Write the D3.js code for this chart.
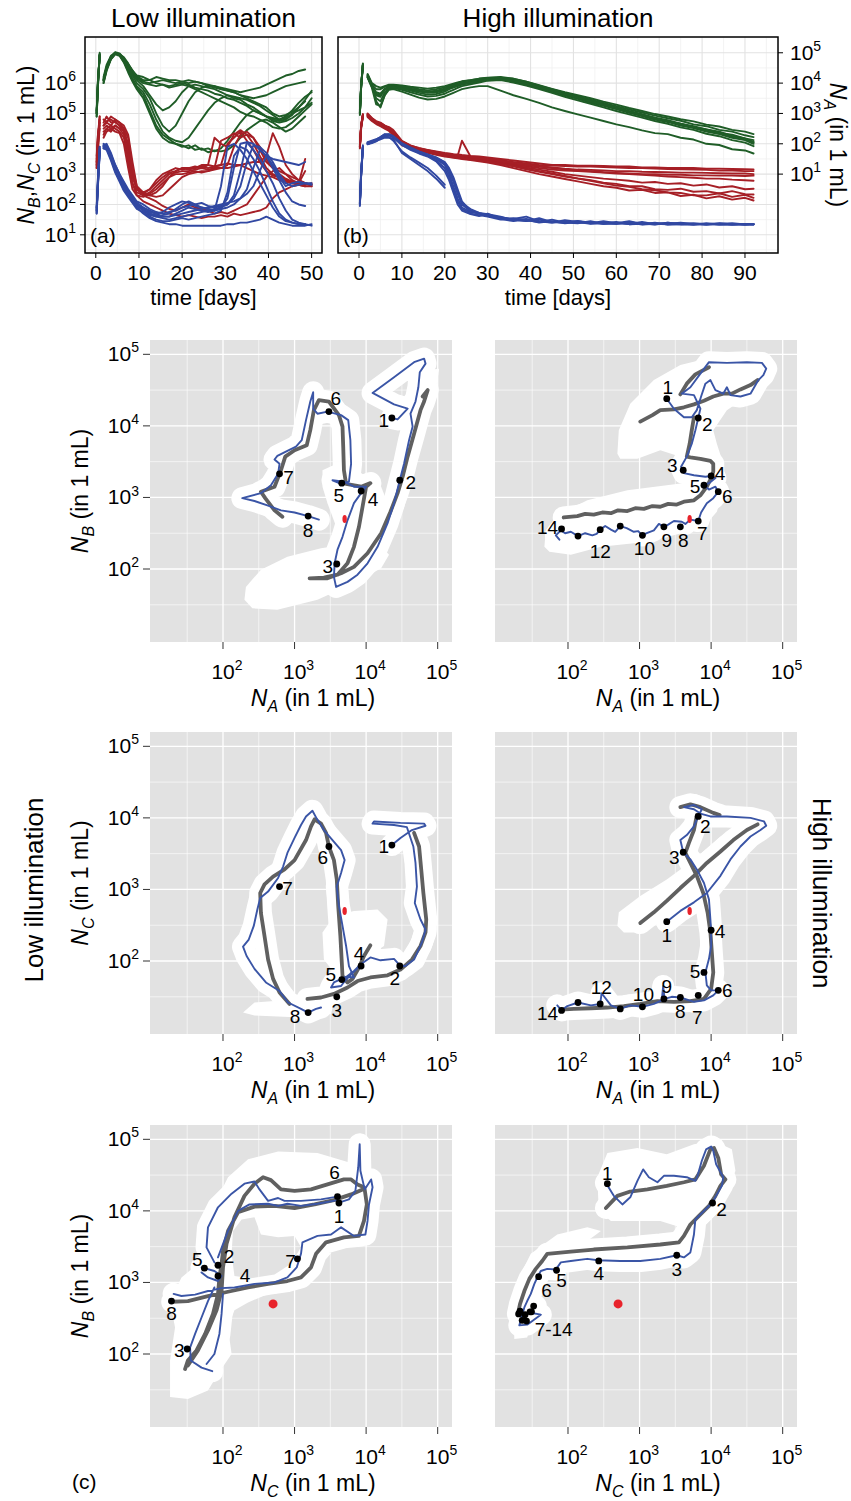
<!DOCTYPE html>
<html><head><meta charset="utf-8">
<script src="https://cdn.jsdelivr.net/npm/d3@7"></script>
<style>
body{margin:0;background:#fff}
text{font-family:"Liberation Sans",Arial,Helvetica,sans-serif;fill:#000}
</style>
</head><body>
<script>
// ================= time series (log10 counts per mL) =================
// low illumination: sampling days (1.3 is the gap after inoculation)
const daysLow = [0.2,0.5,0.9,1.3,1.8,2.5,3.5,4.5,5.5,6.5,7.5,8.5,9.5,11,12.5,14,15.5,17,18.5,20,21.5,23,24.5,26,27.5,29,30.5,32,33.5,35,36.5,38,39.5,41,42.5,44,45.5,47,48.5,50];

// N_A replicates (log10)
const lowA = [
 [3.1,4.1,4.9,null,4.2,4.6,4.9,5.0,4.95,4.85,4.65,4.4,4.2, 4.05,4.0,4.05,4.1,4.05,4.0,4.05, 4.1,4.05,4.0,3.95,3.9,3.85, 3.8,3.75,3.7,3.75,3.8,3.85,3.95, 4.05,4.15,4.25,4.3,4.4,4.45],
 [3.0,4.0,4.95,null,4.1,4.55,4.85,5.02,4.98,4.82,4.62,4.42,4.22, 4.1,4.1,4.2,4.15,4.1,4.1,4.05, 4.0,4.05,4.0,3.9,3.9,3.8, 3.75,3.7,3.6,3.55,3.5,3.55,3.6, 3.7,3.8,3.9,3.95,4.0,4.05],
 [2.9,3.9,5.0,null,4.0,4.45,4.8,4.98,4.96,4.78,4.58,4.35,4.15, 4.0,3.95,3.9,3.95,3.9,3.95,4.0, 3.95,3.85,3.8,3.75,3.65,3.6, 3.5,3.45,3.35,3.25,3.1,3.0,2.9, 2.85,2.8,2.9,3.1,3.35,3.55,3.7],
 [3.0,4.1,4.9,null,4.15,4.5,4.88,5.0,4.93,4.8,4.6,4.4,4.25, 4.2,4.1,4.0,3.95,3.85,3.9,3.95, 3.9,3.8,3.7,3.6,3.5,3.4, 3.3,3.2,3.05,2.95,2.9,2.8,2.7, 2.55,2.5,2.55,2.7,2.9,3.1,3.3],
 [3.1,4.0,4.95,null,4.1,4.5,4.82,4.97,4.95,4.78,4.55,4.3,4.1, 3.9,3.6,3.3,3.1,3.2,3.4,3.7, 3.9,3.95,3.9,3.85,3.8,3.7, 3.6,3.5,3.45,3.3,3.2,3.05,2.9, 2.75,2.7,2.75,2.85,3.0,3.2,3.5],
 [3.0,3.95,4.9,null,4.05,4.45,4.8,4.98,4.92,4.7,4.4,4.1,3.85, 3.6,3.1,2.6,2.3,2.15,2.0,1.95, 1.85,1.95,1.8,1.85,1.75,1.85, 2.1,2.4,2.7,2.95,3.1,3.0,2.9, 2.8,2.75,2.8,2.95,3.2,3.45,3.75],
 [2.9,3.9,4.95,null,4.0,4.4,4.78,4.95,4.9,4.68,4.35,4.05,3.8, 3.5,3.0,2.5,2.2,2.05,2.0,1.9, 1.95,1.8,1.85,1.72,1.78,1.75, 1.8,1.95,2.2,2.45,2.6,2.75,2.8, 2.7,2.55,2.4,2.5,2.7,2.9],
 [3.0,4.0,4.9,null,4.1,4.5,4.85,5.0,4.95,4.75,4.45,4.15,3.9, 3.7,3.3,2.8,2.4,2.2,2.1,2.05, 2.2,2.5,2.8,3.1,3.35,3.5, 3.6,3.55,3.5,3.45,3.35,3.25,3.1, 2.95,2.8,2.85,3.0,3.1,3.2,3.35],
 [3.05,4.05,4.92,null,4.1,4.5,4.82,4.98,4.93,4.75,4.5,4.25,4.0, 3.8,3.5,3.0,2.6,2.4,2.6,3.0, 3.4,3.7,3.85,3.9,3.85,3.8, 3.75,3.7,3.6,3.5,3.4,3.3,3.2, 3.0,2.9,2.95,3.05,3.2,3.4]
];
// N_B replicates (log10)
const lowB = [
 [3.3,4.1,4.9,null,4.6,4.75,4.8,4.7,4.6,4.5,3.4,2.7,2.4, 2.3,2.4,2.6,2.8,3.0,3.05,3.1, 3.1,3.15,3.2,3.15,3.2,4.1, 4.2,4.35,4.2,4.3,4.0,3.6,3.2, 3.0,2.9,2.8,2.75,2.7,2.65,2.7],
 [3.5,4.3,4.7,null,4.3,4.5,4.4,4.6,4.5,4.3,3.9,3.0,2.5, 2.35,2.5,2.8,3.0,3.1,3.2,3.15, 3.2,3.2,3.25,3.2,3.25,3.3, 4.0,4.2,4.4,4.1,3.8,3.4,3.1, 2.95,2.9,2.8,2.7,2.65,2.6,2.6],
 [3.2,3.8,4.5,null,4.8,4.7,4.9,4.8,4.7,4.6,4.3,3.4,2.6, 2.3,2.3,2.4,2.6,2.9,3.0,3.0, 3.05,3.1,3.05,3.1,3.2,3.2, 3.3,3.9,4.3,4.4,4.2,3.8,3.4, 3.2,3.1,3.0,2.9,2.8,2.7,2.65],
 [3.4,4.2,4.8,null,4.5,4.6,4.5,4.4,4.35,4.0,3.2,2.5,2.3, 2.25,2.35,2.5,2.7,2.9,3.1,3.2, 3.15,3.2,3.3,3.3,3.25,3.3, 3.35,3.3,3.3,3.35,3.4,3.4,3.6, 4.35,3.9,3.3,3.0,2.8,2.7,2.6],
 [3.3,4.0,4.6,null,4.4,4.5,4.6,4.5,4.4,4.2,3.5,2.7,2.3, 2.1,2.0,1.9,1.8,1.7,1.65,1.6, 1.65,1.6,1.55,1.6,1.6,1.65, 1.6,1.7,1.65,1.7,1.75,1.8,1.9, 2.2,2.4,2.5,2.6,2.65,2.6],
 [3.6,4.3,4.9,null,4.7,4.9,4.7,4.75,4.6,4.4,3.7,2.9,2.5, 2.4,2.3,2.25,2.3,2.5,2.7,2.9, 3.0,3.05,3.1,3.1,3.15,3.2, 3.2,3.25,3.3,3.2,3.1,3.0,2.95, 2.9,2.8,2.75,2.7,2.7,3.5],
 [3.2,3.9,4.7,null,4.2,4.4,4.5,4.6,4.5,4.45,4.0,3.1,2.5, 2.3,2.2,2.1,1.95,1.85,1.8,1.9, 2.0,1.9,1.85,1.8,1.7,1.75, 1.7,1.8,1.9,2.0,2.3,2.6,2.9, 3.1,3.2,3.0,2.8,2.7,2.7,2.65],
 [3.4,4.1,4.8,null,4.6,4.7,4.6,4.8,4.7,4.5,4.2,3.2,2.6, 2.4,2.5,2.7,2.9,3.05,3.1,3.2, 3.2,3.25,3.2,3.3,4.2,4.0, 3.9,4.3,4.45,4.3,4.2,3.9,3.5, 3.2,3.0,2.85,2.75,2.7,3.1]
];
// N_C replicates (log10)
const lowC = [
 [1.7,2.6,3.7,null,3.9,3.85,3.5,3.1,2.8,2.5,2.3,2.1,1.9, 1.7,1.55,1.45,1.4,1.35,1.35,1.3, 1.3,1.3,1.3,1.3,1.3,1.3, 1.35,1.35,1.4,1.4,1.45,1.5,1.6, 1.5,1.4,1.35,1.3,1.3,1.3,1.35],
 [1.9,2.9,3.9,null,3.95,4.0,3.7,3.3,3.0,2.7,2.45,2.25,2.05, 1.9,1.8,1.7,1.6,1.6,1.7,1.8, 1.9,1.85,1.8,1.75,1.8,2.6, 3.9,4.0,3.8,3.5,3.1,2.7,2.3, 1.9,1.6,1.45,1.4,1.35,1.35],
 [1.8,2.7,3.8,null,3.85,3.9,3.6,3.2,2.9,2.6,2.4,2.2,2.0, 1.8,1.65,1.6,1.65,1.7,1.85,2.0, 2.1,2.0,1.9,1.85,1.8,1.9, 2.2,3.2,4.0,4.05,3.8,3.5,3.1, 2.7,2.2,1.8,1.5,1.4,1.35,1.3],
 [1.75,2.8,3.85,null,3.9,3.95,3.65,3.3,3.0,2.75,2.5,2.3,2.1, 2.0,1.85,1.75,1.7,1.75,1.8,1.9, 1.95,2.0,2.05,1.95,1.9,1.95, 2.0,2.3,3.1,4.05,4.0,3.8,3.6, 3.5,3.45,3.4,3.35,3.3,3.4],
 [1.85,2.75,3.75,null,3.95,3.9,3.55,3.2,2.9,2.6,2.4,2.2,2.0, 1.85,1.7,1.6,1.55,1.5,1.55,1.6, 1.65,1.7,1.75,1.8,1.85,1.9, 2.0,2.2,2.6,3.4,3.95,3.9,3.7, 3.4,3.0,2.7,2.6,2.65,2.7,2.65],
 [1.7,2.65,3.7,null,3.85,3.8,3.45,3.05,2.75,2.45,2.25,2.05,1.85, 1.75,1.6,1.5,1.45,1.45,1.5,1.55, 1.5,1.55,1.6,1.65,1.7,1.8, 2.4,3.6,3.9,3.8,3.5,3.1,2.6, 2.1,1.7,1.5,1.4,1.35,1.35],
 [1.9,2.85,3.9,null,4.0,3.95,3.6,3.25,2.95,2.65,2.45,2.25,2.05, 1.9,1.75,1.7,1.75,1.9,2.0,2.1, 2.05,1.95,1.9,1.85,1.8,1.85, 1.9,2.0,2.2,2.5,3.2,3.8,3.6, 3.2,2.8,2.4,2.1,2.0,1.95],
 [1.8,2.7,3.8,null,3.9,3.9,3.55,3.15,2.85,2.55,2.35,2.15,1.95, 1.8,1.7,1.65,1.6,1.6,1.65,1.7, 1.75,1.8,1.85,1.9,1.95,2.0, 2.05,2.1,2.2,2.35,2.6,3.1,3.6, 3.3,2.9,2.6,2.7,2.75,2.7,2.7]
];

// high illumination: sampling days (1.4 is the gap after inoculation)
const daysHigh = [0.2,0.5,0.9,1.4,2,3,4,5,6,7,8,10,12,14,16,18,20,21,22,23,24,26,28,30,33,36,39,42,45,48,51,54,57,60,63,66,69,72,75,78,81,84,87,90,92];

const highA = [
 [3.0,3.9,4.65,null, 4.3,4.0,3.9,3.85,3.9,3.95,3.95, 3.92,3.88,3.85,3.82,3.85,3.9, 3.94,3.98,4.02,4.06,4.1,4.15,4.18, 4.2,4.15,4.05,3.93,3.81,3.7,3.6, 3.5,3.39,3.29,3.18,3.08,2.98,2.9, 2.81,2.74,2.63,2.57,2.46,2.4,2.32],
 [3.1,3.95,4.6,null, 4.25,3.95,3.8,3.8,3.88,3.92,3.93, 3.9,3.86,3.8,3.76,3.8,3.86, 3.9,3.95,4.0,4.05,4.1,4.14,4.17, 4.18,4.12,4.02,3.9,3.78,3.66,3.55, 3.45,3.35,3.24,3.13,3.03,2.93,2.84, 2.76,2.64,2.58,2.46,2.4,2.28,2.22],
 [2.95,3.85,4.55,null, 4.2,3.9,3.6,3.55,3.8,3.88,3.9, 3.86,3.8,3.75,3.7,3.72,3.8, 3.85,3.9,3.95,4.0,4.05,4.1,4.14, 4.16,4.1,4.0,3.88,3.75,3.62,3.5, 3.4,3.3,3.18,3.06,2.95,2.85,2.74, 2.66,2.55,2.47,2.36,2.3,2.18,2.12],
 [3.0,3.9,4.6,null, 4.28,3.95,3.4,3.2,3.6,3.85,3.9, 3.88,3.82,3.76,3.72,3.75,3.82, 3.88,3.92,3.96,4.0,4.05,4.1,4.15, 4.18,4.14,4.05,3.92,3.8,3.68,3.56, 3.44,3.32,3.2,3.08,2.98,2.86,2.78, 2.66,2.58,2.47,2.4,2.26,2.18,2.05],
 [3.05,3.92,4.62,null, 4.22,3.92,3.7,3.65,3.82,3.87,3.88, 3.84,3.78,3.72,3.68,3.7,3.76, 3.82,3.86,3.9,3.95,4.0,4.05,4.1, 4.12,4.06,3.96,3.84,3.72,3.6,3.48, 3.36,3.25,3.14,3.02,2.91,2.8,2.72, 2.6,2.52,2.4,2.32,2.2,2.12,2.0],
 [2.98,3.88,4.58,null, 4.2,3.88,3.5,3.4,3.7,3.82,3.84, 3.78,3.7,3.62,3.56,3.58,3.65, 3.72,3.78,3.84,3.9,3.96,4.02,4.08, 4.1,4.02,3.92,3.8,3.68,3.55,3.43, 3.32,3.2,3.08,2.97,2.86,2.75,2.66, 2.54,2.46,2.33,2.25,2.12,2.04,1.92],
 [3.02,3.9,4.6,null, 4.18,3.85,3.3,3.25,3.6,3.78,3.8, 3.72,3.62,3.52,3.46,3.48,3.56, 3.62,3.68,3.74,3.8,3.86,3.9,3.9, 3.75,3.6,3.48,3.35,3.2,3.08,2.97, 2.86,2.75,2.64,2.55,2.44,2.35,2.32, 2.2,2.14,2.0,1.96,1.82,1.78,1.68],
 [3.0,3.9,4.62,null, 4.24,3.9,3.65,3.6,3.78,3.85,3.86, 3.82,3.75,3.68,3.62,3.64,3.72, 3.8,3.86,3.92,3.97,4.02,4.08,4.12, 4.14,4.08,3.98,3.86,3.74,3.63,3.52, 3.4,3.28,3.16,3.05,2.94,2.83,2.74, 2.62,2.55,2.42,2.36,2.24,2.16,2.06]
];
const highB = [
 [3.9,4.6,4.95,null, 5.0,4.85,4.75,4.7,4.6,4.55,4.45, 4.1,3.95,3.85,3.8,3.75,3.7, 3.68,3.66,3.65,3.63,3.6,3.58,3.55, 3.5,3.45,3.4,3.35,3.3,3.3,3.28, 3.28,3.27,3.25,3.25,3.22,3.22,3.2, 3.2,3.2,3.18,3.18,3.17,3.16,3.15],
 [3.95,4.55,4.9,null, 4.95,4.8,4.7,4.65,4.55,4.5,4.35, 4.0,3.9,3.82,3.77,3.72,3.66, 3.64,3.62,3.6,4.1,3.58,3.55,3.52, 3.46,3.4,3.35,3.3,3.28,3.27,3.25, 3.25,3.23,3.22,3.2,3.2,3.18,3.17, 3.16,3.15,3.14,3.12,3.12,3.1,3.1],
 [3.85,4.5,4.9,null, 4.9,4.8,4.7,4.62,4.55,4.45,4.3, 4.0,3.88,3.8,3.74,3.68,3.62, 3.6,3.58,3.56,3.54,3.5,3.47,3.44, 3.38,3.32,3.26,3.2,3.15,3.12,3.1, 3.08,3.05,3.02,3.0,2.98,2.95,2.92, 2.9,2.88,2.85,2.85,2.82,2.8,2.78],
 [3.9,4.62,4.98,null, 4.98,4.82,4.72,4.66,4.58,4.52,4.4, 4.05,3.92,3.84,3.78,3.7,3.64, 3.62,3.6,3.58,3.56,3.52,3.48,3.45, 3.38,3.3,3.22,3.15,3.08,3.0,2.95, 2.9,2.85,2.82,2.78,2.72,2.74,2.68, 2.7,2.62,2.66,2.56,2.6,2.5,2.52],
 [3.92,4.58,4.92,null, 4.92,4.78,4.68,4.6,4.52,4.46,4.32, 3.98,3.86,3.78,3.72,3.66,3.6, 3.58,3.56,3.54,3.52,3.48,3.45,3.42, 3.35,3.27,3.18,3.1,3.02,2.94,2.86, 2.8,2.72,2.68,2.6,2.6,2.5,2.48, 2.52,2.42,2.44,2.36,2.44,2.34,2.33],
 [3.88,4.55,4.9,null, 4.88,4.75,4.65,4.58,4.5,4.42,4.28, 3.95,3.84,3.76,3.7,3.64,3.58, 3.56,3.54,3.52,3.5,3.46,3.42,3.38, 3.3,3.2,3.1,3.0,2.92,2.84,2.76, 2.68,2.6,2.55,2.46,2.48,2.38,2.4, 2.28,2.32,2.2,2.27,2.16,2.22,2.13],
 [3.95,4.6,4.95,null, 4.95,4.82,4.7,4.64,4.56,4.48,4.36, 4.02,3.9,3.83,3.76,3.7,3.65, 3.63,3.61,3.59,3.57,3.54,3.5,3.48, 3.42,3.36,3.3,3.25,3.2,3.16,3.12, 3.1,3.06,3.04,3.02,3.0,3.0,2.98, 2.98,2.96,2.96,2.95,2.95,2.94,2.95],
 [3.9,4.58,4.93,null, 4.93,4.8,4.68,4.62,4.54,4.46,4.34, 4.0,3.87,3.8,3.74,3.68,3.62, 3.6,3.58,3.56,3.54,3.5,3.46,3.42, 3.34,3.26,3.16,3.08,3.0,2.92,2.85, 2.78,2.7,2.62,2.58,2.5,2.47,2.4, 2.38,2.3,2.3,2.37,2.25,2.32,2.22],
 [3.92,4.62,4.96,null, 4.96,4.84,4.72,4.68,4.6,4.5,4.42, 4.08,3.94,3.86,3.79,3.73,3.68, 3.66,3.64,3.62,3.6,3.56,3.53,3.5, 3.44,3.38,3.32,3.26,3.22,3.18,3.15, 3.14,3.12,3.1,3.1,3.08,3.07,3.06, 3.05,3.05,3.04,3.03,3.02,3.02,3.0]
];
const highC = [
 [2.0,3.0,3.9,null, 4.0,4.05,4.1,4.15,4.2,4.2,4.15, 3.7,3.5,3.3,3.1,2.85,2.55],
 [2.1,3.1,3.85,null, 4.02,4.08,4.12,4.18,4.25,4.22,4.1, 3.75,3.55,3.38,3.2,2.95,2.65],
 [2.0,3.0,3.9,null, 4.0,4.05,4.1,4.2,4.3,4.32,4.25, 4.0,3.85,3.72,3.62,3.5,3.3, 3.0,2.6,2.2,1.9,1.75,1.7,1.65, 1.55,1.5,1.45,1.5,1.42,1.4,1.45, 1.38,1.4,1.36,1.42,1.35,1.38,1.35, 1.37,1.35,1.36,1.34,1.35,1.33,1.35],
 [2.05,3.05,3.95,null, 4.05,4.1,4.15,4.22,4.3,4.3,4.22, 3.98,3.82,3.7,3.6,3.45,3.2, 2.9,2.5,2.1,1.85,1.7,1.65,1.6, 1.5,1.55,1.48,1.42,1.5,1.4,1.38, 1.45,1.36,1.4,1.35,1.38,1.34,1.4, 1.35,1.33,1.38,1.34,1.36,1.35,1.34],
 [1.95,2.95,3.85,null, 3.98,4.02,4.08,4.18,4.28,4.3,4.24, 4.02,3.88,3.75,3.65,3.55,3.4, 3.2,2.9,2.5,2.1,1.8,1.72,1.68, 1.6,1.48,1.52,1.45,1.4,1.48,1.42, 1.38,1.45,1.38,1.36,1.42,1.35,1.37, 1.4,1.36,1.34,1.37,1.35,1.36,1.35],
 [2.02,3.02,3.92,null, 4.02,4.06,4.12,4.2,4.28,4.28,4.2, 3.96,3.8,3.68,3.58,3.42,3.1, 2.8,2.4,2.0,1.8,1.68,1.62,1.7, 1.52,1.45,1.5,1.4,1.45,1.38,1.42, 1.36,1.38,1.42,1.35,1.36,1.4,1.34, 1.36,1.38,1.35,1.35,1.34,1.36,1.35],
 [2.0,2.98,3.88,null, 4.0,4.04,4.1,4.18,4.26,4.28,4.22, 3.99,3.84,3.72,3.62,3.52,3.35, 3.1,2.75,2.35,2.0,1.78,1.7,1.62, 1.58,1.5,1.45,1.55,1.42,1.4,1.46, 1.4,1.37,1.36,1.4,1.34,1.36,1.35, 1.34,1.36,1.35,1.38,1.34,1.35,1.36],
 [2.05,3.0,3.9,null, 4.04,4.08,4.14,4.22,4.32,4.3,4.24, 4.0,3.86,3.74,3.64,3.54,3.38, 3.15,2.8,2.4,2.05,1.85,1.72,1.64, 1.56,1.52,1.6,1.44,1.4,1.45,1.4, 1.42,1.36,1.38,1.45,1.36,1.35,1.4, 1.36,1.35,1.34,1.36,1.38,1.34,1.35]
];

// axis ticks
const timeTicksLow = [0,10,20,30,40,50];
const timeTicksHigh = [0,10,20,30,40,50,60,70,80,90];
const decadesBC = [1,2,3,4,5,6];
const decadesA = [1,2,3,4,5];
const phaseDecades = [2,3,4,5];

// ================= phase portraits (log10 counts per mL) =================
// numbered sampling points (days)
const lowPtsA = [4.36,4.47,3.59,3.93,3.66,3.48,2.79,3.19];
const lowPtsB = [4.11,3.24,2.07,3.09,3.20,4.20,3.33,2.74];
const lowPtsC = [3.62,1.93,1.50,1.93,1.74,3.60,3.04,1.28];
const lowPtNames = ['1','2','3','4','5','6','7','8'];
const highPtsA = [3.38,3.82,3.61,4.00,3.90,4.10,3.82,3.57,3.34,3.04,2.73,2.45,2.14,1.91];
const highPtsB = [4.38,4.11,3.38,3.30,3.17,3.08,2.67,2.59,2.59,2.47,2.60,2.55,2.46,2.56];
const highPtsC = [2.55,4.02,3.52,2.43,1.84,1.59,1.52,1.49,1.47,1.36,1.33,1.40,1.42,1.31];
const highPtNames = ['1','2','3','4','5','6','7','8','9','10','','12','','14'];
const highPtNamesCB = ['1','2','3','4','5','6','7-14','','','','','','',''];
// coexistence equilibrium (A, B, C)
const equilibrium = [3.70, 2.70, 2.70];

// trajectories: [x, y] in log10, null = break
const lowAB_mean = [[4.79,4.41],[4.86,4.50],[4.81,4.34],[4.76,4.22],[4.67,3.89],[4.58,3.57],[4.51,3.29],[4.44,3.06],[4.34,2.80],[4.21,2.50],[4.02,2.22],[3.83,2.03],[3.65,1.94],[3.46,1.87],[3.21,1.87],[3.41,1.88],[3.60,1.92],[3.74,2.08],[3.83,2.31],[3.90,2.59],[3.95,2.87],[4.00,3.15],[4.06,3.20],[3.93,3.15],[3.72,3.19],[3.69,3.38],[3.68,3.71],[3.67,3.99],[3.62,4.15],[3.48,4.34],[3.34,4.36],[3.27,4.22],[3.22,3.94],[3.17,3.73],[3.00,3.66],[2.87,3.57],[2.81,3.38],[2.72,3.15],[2.53,3.08],[2.59,2.99],[2.72,2.82],[2.83,2.73]];
const lowAB_run = [[4.36,4.11],[4.44,4.09],[4.58,4.24],[4.39,4.30],[4.09,4.46],[4.39,4.68],[4.67,4.89],[4.81,4.94],[4.83,4.87],[4.75,4.75],[4.73,4.54],[4.69,4.34],[4.62,4.17],[4.65,3.99],[4.60,3.80],[4.53,3.47],[4.47,3.24],[4.39,2.92],[4.30,2.64],[4.16,2.31],[4.02,2.08],[3.88,1.92],[3.74,1.82],[3.58,1.75],[3.55,1.89],[3.56,2.08],[3.60,2.27],[3.67,2.45],[3.74,2.68],[3.83,2.92],[3.93,3.06],[4.00,3.15],[3.83,3.15],[3.69,3.22],[3.53,3.24],[3.65,3.19],[3.76,3.22],[3.79,3.47],[3.78,3.80],[3.75,4.08],[3.65,4.15],[3.46,4.20],[3.32,4.17],[3.26,4.24],[3.26,4.47],[3.22,4.34],[3.16,4.08],[3.10,3.80],[3.02,3.71],[2.90,3.65],[2.76,3.58],[2.72,3.53],[2.79,3.47],[2.77,3.33],[2.67,3.17],[2.53,3.06],[2.27,2.99],[2.44,2.95],[2.62,2.89],[2.81,2.82],[3.00,2.79],[3.19,2.74],[3.34,2.69]];
const lowAB_spread = [
 [[2.30,1.57],[2.32,1.75],[2.53,1.99],[2.90,2.17],[3.37,2.29],[3.83,2.36],[4.21,2.32],[4.32,2.20],[4.21,2.01],[3.83,1.80],[3.32,1.57],[2.76,1.43],[2.41,1.45]],
 [[3.39,3.38],[3.65,3.50],[3.93,3.34],[4.21,3.15],[4.32,2.87],[4.27,2.54],[4.11,2.36],[3.83,2.34],[3.60,2.54],[3.46,2.92],[3.39,3.15]],
 [[4.53,4.41],[4.86,4.78],[5.02,4.80],[4.97,4.45],[4.81,4.03],[4.67,3.94],[4.58,4.13]]
];

const highAB_mean = [[3.01,4.06],[3.18,4.15],[3.29,4.22],[3.48,4.23],[3.62,4.26],[3.76,4.30],[3.90,4.35],[4.03,4.41],[4.17,4.45],[4.29,4.45],[4.41,4.51],[4.55,4.57],[4.65,4.64],null,[3.57,4.44],[3.66,4.59],[3.78,4.72],[3.97,4.82],null,[3.76,4.12],[3.73,3.94],[3.70,3.75],[3.66,3.57],[3.71,3.56],[3.85,3.54],[3.99,3.51],[4.03,3.47],[4.03,3.36],[4.00,3.27],[3.94,3.15],[3.85,3.03],[3.76,2.96],[3.62,2.94],[3.52,2.90],[3.40,2.91],[3.29,2.87],[3.18,2.88],[3.06,2.84],[2.94,2.85],[2.83,2.81],[2.70,2.82],[2.60,2.78],[2.48,2.79],[2.36,2.76],[2.24,2.77],[2.13,2.74],[1.94,2.72]];
const highAB_run = [[3.38,4.38],[3.48,4.24],[3.62,4.12],[3.73,4.12],[3.80,4.22],[3.86,4.41],[3.92,4.59],[3.99,4.64],[4.06,4.50],[4.17,4.45],[4.22,4.54],[4.27,4.43],[4.41,4.41],[4.55,4.45],[4.66,4.64],[4.73,4.71],[4.77,4.80],[4.71,4.88],[4.50,4.89],[4.22,4.88],[3.97,4.89],[3.85,4.73],[3.71,4.54],[3.59,4.45],[3.76,4.43],[3.85,4.24],[3.82,4.11],[3.78,3.94],[3.73,3.75],[3.66,3.57],[3.58,3.43],[3.62,3.34],[3.76,3.31],[3.92,3.29],[4.00,3.30],[4.06,3.27],[3.97,3.20],[3.90,3.17],[3.97,3.11],[4.06,3.15],[4.10,3.08],[4.03,2.99],[3.94,2.92],[3.86,2.79],[3.82,2.67],[3.71,2.69],[3.64,2.63],[3.59,2.66],[3.48,2.67],[3.40,2.62],[3.34,2.59],[3.27,2.63],[3.20,2.54],[3.10,2.50],[3.04,2.47],[2.98,2.53],[2.92,2.52],[2.82,2.57],[2.73,2.60],[2.66,2.52],[2.60,2.55],[2.52,2.60],[2.45,2.55],[2.40,2.49],[2.34,2.47],[2.24,2.50],[2.14,2.46],[2.04,2.52],[1.96,2.50],[1.90,2.54],[1.83,2.47],[1.88,2.41]];
const highAB_spread = [
 [[2.69,3.61],[2.71,3.94],[2.87,4.31],[3.20,4.64],[3.57,4.85],[3.94,4.94],[4.31,4.97],[4.69,4.96],[4.85,4.82],[4.75,4.59],[4.50,4.41],[4.22,4.22],[4.03,3.94],[4.08,3.75],[4.17,3.47],[4.15,3.20],[3.94,3.15],[3.76,3.34],[3.57,3.57],[3.29,3.66],[2.97,3.54],[2.73,3.54]],
 [[1.67,2.31],[1.69,2.54],[1.85,2.75],[2.27,2.96],[2.83,3.10],[3.38,3.17],[3.76,3.22],[4.03,3.20],[4.15,3.03],[4.08,2.80],[3.90,2.59],[3.48,2.47],[2.92,2.36],[2.46,2.31],[2.04,2.20],[1.74,2.24]]
];

const lowAC_mean = [[4.67,3.79],[4.74,3.60],[4.77,3.28],[4.80,2.95],[4.84,2.58],[4.83,2.40],[4.76,2.21],[4.64,2.02],[4.48,1.88],[4.30,1.80],[4.06,1.77],[3.88,1.72],[3.74,1.63],[3.55,1.54],[3.37,1.49],[3.18,1.47],null,[4.06,2.22],[3.97,2.07],[3.90,1.91],[3.81,1.75],[3.74,1.70],[3.67,1.79],[3.66,1.98],[3.64,2.35],[3.61,2.77],[3.59,3.14],[3.55,3.41],[3.48,3.60],[3.44,3.79],[3.37,3.92],[3.28,3.98],[3.23,3.88],[3.16,3.69],[3.00,3.41],[2.86,3.28],[2.70,3.18],[2.58,3.07],[2.52,2.95],[2.53,2.67],[2.58,2.35],[2.63,2.02],[2.70,1.75],[2.79,1.56],[2.93,1.40]];
const lowAC_run = [[4.36,3.62],[4.48,3.72],[4.64,3.83],[4.83,3.89],[4.81,3.92],[4.48,3.93],[4.11,3.95],[4.09,3.92],[4.39,3.90],[4.57,3.87],[4.66,3.60],[4.69,3.37],[4.71,3.04],[4.68,2.81],[4.76,2.58],[4.83,2.44],[4.78,2.26],[4.67,2.02],[4.55,1.93],[4.48,1.93],[4.39,2.03],[4.20,2.01],[4.06,2.05],[3.92,1.95],[3.83,1.86],[3.74,1.79],[3.55,1.70],[3.51,1.63],[3.65,1.65],[3.80,1.85],[3.70,1.72],[3.88,1.90],[3.75,1.78],[3.83,1.77],[3.76,1.93],[3.72,2.21],[3.67,2.49],[3.62,2.77],[3.59,3.04],[3.65,3.23],[3.70,3.41],[3.65,3.55],[3.53,3.69],[3.41,3.83],[3.31,3.99],[3.25,4.10],[3.16,4.02],[3.09,3.90],[3.00,3.72],[2.90,3.51],[2.84,3.32],[2.77,3.16],[2.63,2.97],[2.52,2.88],[2.48,2.72],[2.43,2.49],[2.36,2.30],[2.28,2.20],[2.33,2.07],[2.44,1.89],[2.60,1.70],[2.79,1.58],[2.91,1.42],[3.09,1.33],[3.19,1.28],[3.30,1.33],[3.37,1.35]];
const lowAC_spread = [
 [[3.39,2.40],[3.55,2.63],[3.83,2.70],[4.16,2.72],[4.30,2.58],[4.25,2.21],[4.11,2.12],[3.83,1.98],[3.55,1.84],[3.41,2.02]],
 [[2.28,1.28],[2.44,1.42],[3.09,1.47],[3.55,1.44],[3.51,1.26],[3.09,1.21],[2.44,1.24]]
];

const highAC_mean = [[3.01,2.53],[3.20,2.68],[3.38,2.84],[3.57,3.02],[3.76,3.19],[3.94,3.37],[4.13,3.53],[4.31,3.69],[4.50,3.83],[4.65,3.91],null,[3.57,4.15],[3.71,4.19],[3.85,4.15],[4.03,4.07],[4.12,4.04],null,[3.80,4.04],[3.76,3.83],[3.69,3.65],[3.64,3.51],[3.71,3.37],[3.80,3.19],[3.89,2.95],[3.95,2.68],[3.99,2.40],[4.01,2.12],[4.03,1.84],[4.00,1.61],[3.90,1.47],[3.71,1.44],[3.48,1.43],[3.25,1.44],[3.01,1.40],[2.78,1.37],[2.55,1.35],[2.32,1.34],[2.08,1.33],[1.90,1.32]];
const highAC_run = [[3.38,2.55],[3.57,2.70],[3.76,2.82],[3.94,2.95],[4.13,3.19],[4.27,3.42],[4.41,3.60],[4.55,3.74],[4.69,3.83],[4.77,3.89],[4.74,3.95],[4.55,4.00],[4.22,4.02],[3.99,4.02],[3.85,4.06],[3.76,4.12],[3.62,4.15],[3.76,4.18],[3.87,4.12],[3.82,4.02],[3.76,3.88],[3.66,3.76],[3.57,3.69],[3.61,3.52],[3.71,3.42],[3.80,3.28],[3.90,3.09],[3.97,2.86],[3.99,2.58],[4.00,2.43],[4.00,2.21],[3.97,2.03],[3.92,1.84],[3.94,1.66],[4.00,1.59],[4.10,1.59],[4.03,1.52],[3.90,1.45],[3.76,1.43],[3.57,1.49],[3.45,1.50],[3.35,1.47],[3.33,1.65],[3.31,1.45],[3.20,1.40],[3.04,1.36],[2.87,1.38],[2.73,1.33],[2.60,1.38],[2.47,1.55],[2.45,1.40],[2.32,1.38],[2.14,1.42],[1.99,1.37],[1.91,1.31],[1.85,1.38]];
const highAC_spread = [
 [[2.69,2.49],[2.71,2.68],[3.01,2.91],[3.38,3.14],[3.76,3.42],[4.13,3.74],[4.50,3.97],[4.64,3.93],[4.41,3.69],[4.13,3.42],[3.85,3.14],[3.52,2.82],[3.29,2.54],[3.01,2.40],[2.78,2.40]]
];

const lowCB_mean = [[1.29,2.73],[1.51,2.74],[1.79,2.81],[2.07,2.87],[2.35,2.93],[2.63,2.98],[2.90,3.02],[3.09,3.07],[3.23,3.21],[3.30,3.40],[3.44,3.56],[3.69,3.63],[3.90,3.65],[3.97,3.86],[4.01,4.09],[3.98,4.30],null,[3.95,4.30],[3.79,4.23],[3.55,4.15],[3.28,4.09],[3.00,4.04],[2.72,4.07],[2.44,4.06],[2.21,3.98],[2.07,3.72],[2.00,3.44],[1.98,3.26],[1.95,3.07],[1.93,2.84],[1.86,2.56],[1.75,2.28],[1.63,2.05],[1.51,1.91],[1.47,1.79],null,[1.51,1.84],[1.65,2.05],[1.79,2.33],[1.91,2.61],[1.98,2.88],[2.00,3.21],[2.05,3.54],[2.16,3.91],[2.30,4.21],[2.44,4.38],[2.56,4.47],[2.67,4.43],[2.81,4.30],[3.00,4.28],[3.23,4.30],[3.46,4.37],[3.69,4.44],[3.79,4.44],[3.88,4.37],[3.97,4.33]];
const lowCB_run = [[3.63,4.12],[3.76,4.16],[3.85,4.28],[3.89,4.61],[3.91,4.93],[3.92,4.56],[3.98,4.30],[4.07,4.44],[4.09,4.33],[4.04,4.09],[4.02,3.86],[3.99,3.67],[3.83,3.65],[3.65,3.77],[3.51,3.67],[3.32,3.65],[3.11,3.56],[3.09,3.40],[3.03,3.21],[2.90,3.07],[2.72,3.00],[2.44,2.98],[2.16,2.93],[1.98,2.92],[1.79,2.88],[1.61,2.83],[1.42,2.81],[1.31,2.84],null,[1.88,3.28],[1.77,3.49],[1.79,3.77],[1.93,4.05],[2.12,4.24],[2.30,4.38],[2.44,4.41],[2.51,4.30],[2.63,4.14],[2.77,4.18],[2.86,4.14],[3.09,4.14],[3.37,4.16],[3.60,4.20],null,[1.93,3.35],[2.07,3.72],[2.21,4.00],[2.37,4.09],[2.63,4.10],[2.77,4.07],[2.90,4.10],[3.09,4.07],[3.32,4.10],[3.60,4.15],null,[1.88,2.93],[1.79,2.74],[1.70,2.51],[1.61,2.28],[1.54,2.09],[1.55,1.91],[1.70,1.81],[1.85,1.76],null,[2.00,2.84],[1.98,2.56],[1.95,2.28],[1.88,2.00],[1.77,1.86],null,[1.70,3.21],[1.88,3.16],[1.98,3.09],[1.93,3.02],[1.79,3.07],[1.70,3.14]];
const lowCB_spread = [
 [[1.26,1.40],[1.26,1.91],[1.33,2.37],[1.26,2.74],[1.42,3.07],[1.70,3.30],[1.77,3.72],[1.88,4.09],[2.07,4.47],[2.35,4.72],[2.77,4.83],[3.32,4.81],[3.79,4.67],[3.97,4.56],[4.12,4.49],[4.09,4.05],[4.06,3.63],[3.83,3.54],[3.55,3.49],[3.37,3.35],[3.32,3.12],[3.09,2.93],[2.63,2.84],[2.35,2.72],[2.16,2.61],[2.07,2.37],[2.12,2.00],[1.93,1.72],[1.79,1.49],[1.51,1.37]]
];
const lowCB_gap = [[2.14,3.72],[2.26,3.88],[2.44,3.91],[2.53,3.67],[2.77,3.63],[3.00,3.65],[3.09,3.49],[2.95,3.26],[2.72,3.11],[2.39,3.06],[2.16,3.09],[2.12,3.40]];

const highCB_mean = [[2.53,4.04],[2.69,4.21],[2.87,4.27],[3.11,4.30],[3.38,4.35],[3.62,4.40],[3.78,4.44],[3.90,4.63],[3.99,4.86],[4.04,4.88],[4.10,4.74],[4.14,4.51],[4.20,4.44],[4.13,4.35],[4.06,4.21],[3.97,4.07],[3.83,3.93],[3.71,3.81],[3.62,3.65],[3.55,3.56],[3.29,3.53],[2.83,3.49],[2.36,3.46],[2.04,3.43],[1.71,3.40],[1.64,3.30],[1.55,3.19],[1.46,3.05],[1.39,2.88],[1.33,2.70],[1.30,2.56]];
const highCB_run = [[2.53,4.39],[2.64,4.21],[2.76,4.09],[2.87,4.19],[2.97,4.42],[3.05,4.58],[3.13,4.47],[3.25,4.40],[3.34,4.49],[3.48,4.49],[3.66,4.47],[3.78,4.42],[3.81,4.49],[3.87,4.70],[3.93,4.86],[4.00,4.90],[4.03,4.84],[4.07,4.65],[4.12,4.56],[4.17,4.47],[4.15,4.35],[4.08,4.23],[4.02,4.12],[3.90,4.00],[3.78,3.88],[3.76,3.67],[3.71,3.42],[3.62,3.35],[3.52,3.38],[3.29,3.33],[3.01,3.30],[2.73,3.30],[2.42,3.31],[2.27,3.33],[2.04,3.30],[1.90,3.28],[1.83,3.18],[1.71,3.19],[1.62,3.16],[1.58,3.09],[1.53,2.98],[1.48,2.84],[1.43,2.74],[1.39,2.65],[1.34,2.47],[1.32,2.40],[1.43,2.41],[1.62,2.55],[1.46,2.58],[1.55,2.67]];
const highCB_spread = [
 [[2.43,4.00],[2.41,4.47],[2.55,4.81],[2.97,4.88],[3.38,4.79],[3.76,4.93],[4.03,4.98],[4.29,4.86],[4.34,4.56],[4.24,4.28],[4.13,4.05],[3.94,3.86],[3.76,3.67],[3.57,3.77],[3.29,3.86],[2.92,3.86],[2.60,3.86]],
 [[1.25,2.21],[1.24,2.65],[1.29,3.02],[1.48,3.40],[1.85,3.67],[2.27,3.77],[2.46,3.72],[2.27,3.58],[1.85,3.44],[1.67,3.21],[1.57,2.84],[1.50,2.47],[1.43,2.23]]
];

// ================= drawing =================
const svg = d3.select('body').append('svg').attr('width',851).attr('height',1501).style('display','block');
const INK = '#000', GREEN = '#1f5d27', RED = '#a61f26', BLUE = '#3148a2';
const TRAJ_GREY = '#606060', TRAJ_BLUE = '#3a55a6', PANEL_BG = '#e2e2e2';
const TICK_FS = 21, TITLE_FS = 23;
let clipCount = 0;

function pow10(sel, exp, size) {
  sel.append('tspan').text('10');
  sel.append('tspan').attr('font-size', Math.round(size*0.68)).attr('dy', -size*0.42).text(exp);
}
// title with italic symbols and subscripts; parts = [text, kind]
function richText(sel, parts, size) {
  let shift = 0;
  parts.forEach(([t, kind]) => {
    const ts = sel.append('tspan').text(t);
    if (kind === 'i') { ts.attr('font-style','italic'); ts.attr('dy', -shift); shift = 0; }
    else if (kind === 'sub') { ts.attr('font-style','italic').attr('font-size', Math.round(size*0.7)).attr('dy', size*0.24); shift = size*0.24; }
    else { ts.attr('dy', -shift); shift = 0; }
  });
}

// ---------- time series panels ----------
function timePanel(o) {
  const g = svg.append('g');
  const x = d3.scaleLinear().domain(o.tDom).range([o.x0, o.x1]);
  const yBC = d3.scaleLog().domain([10**0.4, 10**7.52]).range([o.y1, o.y0]);
  const yA = d3.scaleLog().domain([10**-1.6, 10**5.52]).range([o.y1, o.y0]);
  g.append('rect').attr('x',o.x0).attr('y',o.y0).attr('width',o.x1-o.x0).attr('height',o.y1-o.y0).attr('fill','#fff');
  const grid = g.append('g');
  d3.range(0.5, 7.6, 1).forEach(e => grid.append('line').attr('x1',o.x0).attr('x2',o.x1).attr('y1',yBC(10**e)).attr('y2',yBC(10**e)).attr('stroke','#f0f0f0').attr('stroke-width',0.8));
  d3.range(5, o.tDom[1], 10).forEach(t => grid.append('line').attr('x1',x(t)).attr('x2',x(t)).attr('y1',o.y0).attr('y2',o.y1).attr('stroke','#f0f0f0').attr('stroke-width',0.8));
  d3.range(1, 8, 1).forEach(e => grid.append('line').attr('x1',o.x0).attr('x2',o.x1).attr('y1',yBC(10**e)).attr('y2',yBC(10**e)).attr('stroke','#e2e2e2').attr('stroke-width',1.1));
  o.xTicks.forEach(t => grid.append('line').attr('x1',x(t)).attr('x2',x(t)).attr('y1',o.y0).attr('y2',o.y1).attr('stroke','#e2e2e2').attr('stroke-width',1.1));

  const id = 'tclip' + (clipCount++);
  g.append('clipPath').attr('id', id).append('rect').attr('x',o.x0).attr('y',o.y0).attr('width',o.x1-o.x0).attr('height',o.y1-o.y0);
  const lines = g.append('g').attr('clip-path', `url(#${id})`);
  const groups = [[o.A, yA, GREEN], [o.B, yBC, RED], [o.C, yBC, BLUE]];
  groups.forEach(([reps, ys, col]) => {
    const gen = d3.line().defined(d => d.v != null).x(d => x(d.t)).y(d => ys(10**d.v));
    reps.forEach(r => {
      const pts = r.map((v, i) => ({t: o.days[i], v}));
      lines.append('path').attr('d', gen(pts)).attr('fill','none').attr('stroke',col)
        .attr('stroke-width',1.9).attr('stroke-linejoin','round').attr('stroke-linecap','round');
    });
  });
  g.append('rect').attr('x',o.x0).attr('y',o.y0).attr('width',o.x1-o.x0).attr('height',o.y1-o.y0)
    .attr('fill','none').attr('stroke',INK).attr('stroke-width',1.5);

  // x axis
  o.xTicks.forEach(t => {
    g.append('line').attr('x1',x(t)).attr('x2',x(t)).attr('y1',o.y1).attr('y2',o.y1+5).attr('stroke',INK);
    g.append('text').attr('x',x(t)).attr('y',o.y1+27).attr('text-anchor','middle').attr('font-size',TICK_FS).text(t);
  });
  g.append('text').attr('x',(o.x0+o.x1)/2).attr('y',o.y1+52).attr('text-anchor','middle').attr('font-size',22).text('time [days]');
  g.append('text').attr('x',(o.x0+o.x1)/2).attr('y',o.y0-10).attr('text-anchor','middle').attr('font-size',26).text(o.title);
  g.append('text').attr('x',o.x0+5).attr('y',o.y1-10).attr('font-size',21).text(o.tag);

  if (o.leftTicks) {
    o.leftTicks.forEach(e => {
      const yy = yBC(10**e);
      g.append('line').attr('x1',o.x0-5).attr('x2',o.x0).attr('y1',yy).attr('y2',yy).attr('stroke',INK);
      const t = g.append('text').attr('x',o.x0-9).attr('y',yy+7).attr('text-anchor','end').attr('font-size',TICK_FS);
      pow10(t, e, TICK_FS);
    });
    const lab = g.append('text').attr('transform',`translate(${o.x0-51},${(o.y0+o.y1)/2}) rotate(-90)`).attr('text-anchor','middle').attr('font-size',TITLE_FS);
    richText(lab, [['N','i'],['B','sub'],[',',''],['N','i'],['C','sub'],[' (in 1 mL)','']], TITLE_FS);
  }
  if (o.rightTicks) {
    o.rightTicks.forEach(e => {
      const yy = yA(10**e);
      g.append('line').attr('x1',o.x1).attr('x2',o.x1+5).attr('y1',yy).attr('y2',yy).attr('stroke',INK);
      const t = g.append('text').attr('x',o.x1+12).attr('y',yy+7).attr('font-size',TICK_FS);
      pow10(t, e, TICK_FS);
    });
    const lab = g.append('text').attr('transform',`translate(${o.x1+52},${(o.y0+o.y1)/2}) rotate(90)`).attr('text-anchor','middle').attr('font-size',TITLE_FS);
    richText(lab, [['N','i'],['A','sub'],[' (in 1 mL)','']], TITLE_FS);
  }
}

timePanel({x0:85, x1:322, y0:37, y1:253, tDom:[-2.5,52.4], days:daysLow, A:lowA, B:lowB, C:lowC,
  xTicks:timeTicksLow, leftTicks:decadesBC, title:'Low illumination', tag:'(a)'});
timePanel({x0:338, x1:778, y0:37, y1:253, tDom:[-4.9,97.7], days:daysHigh, A:highA, B:highB, C:highC,
  xTicks:timeTicksHigh, rightTicks:decadesA, title:'High illumination', tag:'(b)'});

// ---------- phase portraits ----------
const SIDE = 302;
function phasePanel(o) {
  const g = svg.append('g');
  const x = d3.scaleLog().domain([10**0.98, 10**5.2]).range([o.x0, o.x0+SIDE]);
  const y = d3.scaleLog().domain([10**0.98, 10**5.2]).range([o.y0+SIDE, o.y0]);
  const line = d3.line().defined(d => d != null).x(d => x(10**d[0])).y(d => y(10**d[1]));
  g.append('rect').attr('x',o.x0).attr('y',o.y0).attr('width',SIDE).attr('height',SIDE).attr('fill',PANEL_BG);
  const id = 'pclip' + (clipCount++);
  g.append('clipPath').attr('id', id).append('rect').attr('x',o.x0).attr('y',o.y0).attr('width',SIDE).attr('height',SIDE);
  const inner = g.append('g').attr('clip-path', `url(#${id})`);

  // spread of replicate runs
  o.spread.forEach(p => inner.append('path').attr('d', line(p) + 'Z').attr('fill','#fff'));
  [o.mean, o.run].forEach(p => inner.append('path').attr('d', line(p)).attr('fill','none')
    .attr('stroke','#fff').attr('stroke-width',22).attr('stroke-linejoin','round').attr('stroke-linecap','round'));
  if (o.gap) inner.append('path').attr('d', line(o.gap) + 'Z').attr('fill',PANEL_BG);

  // grid
  [1.5,2.5,3.5,4.5].forEach(e => {
    inner.append('line').attr('x1',x(10**e)).attr('x2',x(10**e)).attr('y1',o.y0).attr('y2',o.y0+SIDE).attr('stroke','#fff').attr('stroke-width',0.6);
    inner.append('line').attr('y1',y(10**e)).attr('y2',y(10**e)).attr('x1',o.x0).attr('x2',o.x0+SIDE).attr('stroke','#fff').attr('stroke-width',0.6);
  });
  phaseDecades.forEach(e => {
    inner.append('line').attr('x1',x(10**e)).attr('x2',x(10**e)).attr('y1',o.y0).attr('y2',o.y0+SIDE).attr('stroke','#fff').attr('stroke-width',1.3);
    inner.append('line').attr('y1',y(10**e)).attr('y2',y(10**e)).attr('x1',o.x0).attr('x2',o.x0+SIDE).attr('stroke','#fff').attr('stroke-width',1.3);
  });

  inner.append('path').attr('d', line(o.mean)).attr('fill','none').attr('stroke',TRAJ_GREY)
    .attr('stroke-width',3.8).attr('stroke-linejoin','round').attr('stroke-linecap','round');
  inner.append('path').attr('d', line(o.run)).attr('fill','none').attr('stroke',TRAJ_BLUE)
    .attr('stroke-width',1.9).attr('stroke-linejoin','round').attr('stroke-linecap','round');

  // equilibrium
  const ex = x(10**o.eq[0]), ey = y(10**o.eq[1]);
  if (o.eqRound) inner.append('circle').attr('cx',ex).attr('cy',ey).attr('r',4.5).attr('fill','#e8232b');
  else inner.append('ellipse').attr('cx',ex).attr('cy',ey).attr('rx',2.2).attr('ry',4).attr('fill','#e8232b');

  // sampling points and their labels
  o.px.forEach((v, i) => {
    const cx = x(10**v), cy = y(10**o.py[i]);
    g.append('circle').attr('cx',cx).attr('cy',cy).attr('r',3.4).attr('fill',INK);
    const nm = o.names[i], off = o.nudge[i];
    if (nm && off) g.append('text').attr('x',cx+off[0]).attr('y',cy+off[1]).attr('dy','0.36em')
      .attr('text-anchor','middle').attr('font-size',19).text(nm);
  });

  // axes
  const bottom = o.y0 + SIDE;
  phaseDecades.forEach(e => {
    const xx = x(10**e);
    g.append('line').attr('x1',xx).attr('x2',xx).attr('y1',bottom).attr('y2',bottom+7).attr('stroke','#333');
    const t = g.append('text').attr('x',xx+4).attr('y',bottom+37).attr('text-anchor','middle').attr('font-size',TICK_FS);
    pow10(t, e, TICK_FS);
  });
  const xt = g.append('text').attr('x',o.x0+SIDE/2+12).attr('y',bottom+64).attr('text-anchor','middle').attr('font-size',TITLE_FS);
  richText(xt, [['N','i'],[o.xVar,'sub'],[' (in 1 mL)','']], TITLE_FS);
  if (o.showY) {
    phaseDecades.forEach(e => {
      const yy = y(10**e);
      g.append('line').attr('x1',o.x0-7).attr('x2',o.x0).attr('y1',yy).attr('y2',yy).attr('stroke','#333');
      const t = g.append('text').attr('x',o.x0-11).attr('y',yy+7).attr('text-anchor','end').attr('font-size',TICK_FS);
      pow10(t, e, TICK_FS);
    });
    const yt = g.append('text').attr('transform',`translate(${o.x0-62},${o.y0+SIDE/2}) rotate(-90)`).attr('text-anchor','middle').attr('font-size',TITLE_FS);
    richText(yt, [['N','i'],[o.yVar,'sub'],[' (in 1 mL)','']], TITLE_FS);
  }
}

// label placement around each sampling point (pixels)
const nudge = {
  lowAB:  [[-8,2],[11,2],[-9,2],[12,8],[-3,12],[7,-13],[9,3],[0,14]],
  highAB: [[1,-12],[9,6],[-11,-5],[9,-3],[-9,1],[9,4],[4,12],[3,13],[3,13],[2,13],null,[0,22],null,[-14,-2]],
  lowAC:  [[-8,1],[-5,12],[0,13],[-2,-13],[-11,-5],[-6,11],[8,2],[-13,4]],
  highAC: [[0,14],[7,10],[-9,5],[9,1],[-9,-1],[9,0],[-1,22],[0,14],[3,-13],[1,-13],null,[1,-17],null,[-14,3]],
  lowCB:  [[0,13],[11,-9],[-8,1],[27,-1],[-7,-9],[-3,-24],[-7,2],[0,12]],
  highCB: [[0,-11],[9,6],[0,14],[0,12],[5,10],[8,13],[20,23],null,null,null,null,null,null,null]
};

const colL = 150, colR = 495, rows = [340, 732, 1125];
phasePanel({x0:colL, y0:rows[0], px:lowPtsA, py:lowPtsB, names:lowPtNames, nudge:nudge.lowAB,
  mean:lowAB_mean, run:lowAB_run, spread:lowAB_spread, eq:[equilibrium[0],equilibrium[1]], xVar:'A', yVar:'B', showY:true});
phasePanel({x0:colR, y0:rows[0], px:highPtsA, py:highPtsB, names:highPtNames, nudge:nudge.highAB,
  mean:highAB_mean, run:highAB_run, spread:highAB_spread, eq:[equilibrium[0],equilibrium[1]], xVar:'A', yVar:'B'});
phasePanel({x0:colL, y0:rows[1], px:lowPtsA, py:lowPtsC, names:lowPtNames, nudge:nudge.lowAC,
  mean:lowAC_mean, run:lowAC_run, spread:lowAC_spread, eq:[equilibrium[0],equilibrium[2]], xVar:'A', yVar:'C', showY:true});
phasePanel({x0:colR, y0:rows[1], px:highPtsA, py:highPtsC, names:highPtNames, nudge:nudge.highAC,
  mean:highAC_mean, run:highAC_run, spread:highAC_spread, eq:[equilibrium[0],equilibrium[2]], xVar:'A', yVar:'C'});
phasePanel({x0:colL, y0:rows[2], px:lowPtsC, py:lowPtsB, names:lowPtNames, nudge:nudge.lowCB,
  mean:lowCB_mean, run:lowCB_run, spread:lowCB_spread, gap:lowCB_gap, eq:[equilibrium[2],equilibrium[1]], eqRound:true, xVar:'C', yVar:'B', showY:true});
phasePanel({x0:colR, y0:rows[2], px:highPtsC, py:highPtsB, names:highPtNamesCB, nudge:nudge.highCB,
  mean:highCB_mean, run:highCB_run, spread:highCB_spread, eq:[equilibrium[2],equilibrium[1]], eqRound:true, xVar:'C', yVar:'B'});

// row captions and figure tag
svg.append('text').attr('transform','translate(43,890) rotate(-90)').attr('text-anchor','middle').attr('font-size',26).text('Low illumination');
svg.append('text').attr('transform','translate(813,893) rotate(90)').attr('text-anchor','middle').attr('font-size',26).text('High illumination');
svg.append('text').attr('x',72).attr('y',1489).attr('font-size',21).text('(c)');
</script>
</body></html>
